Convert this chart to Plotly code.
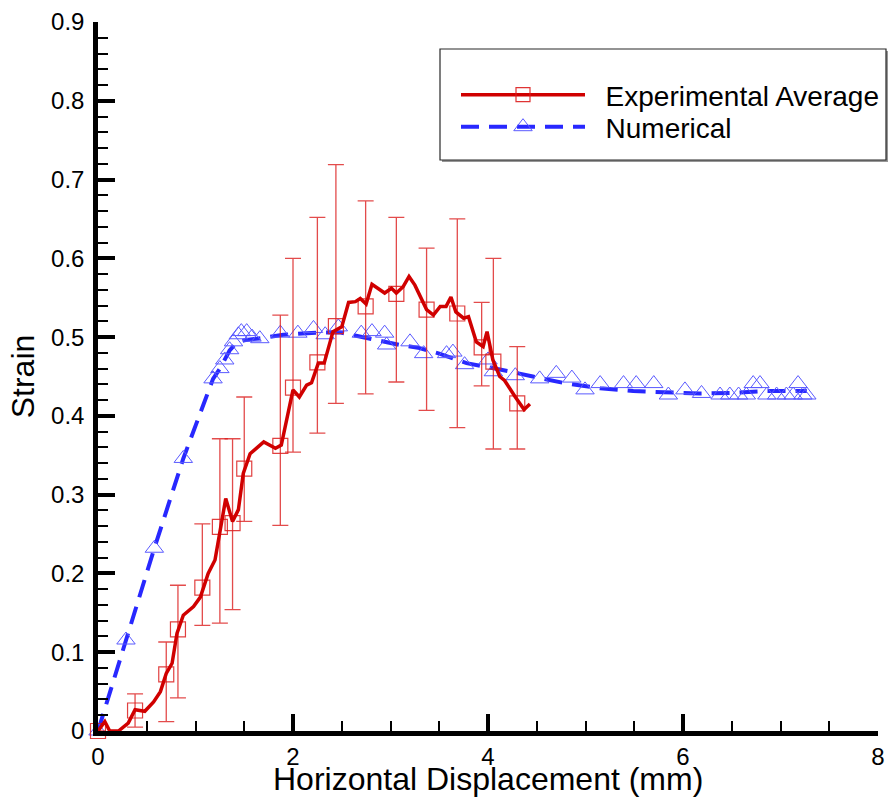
import plotly.graph_objects as go

# ---------------- data ----------------
exp_line_x = [0.00, 0.07, 0.12, 0.21, 0.31, 0.38, 0.48, 0.57, 0.64, 0.70, 0.76, 0.81, 0.875, 0.98, 1.05,
              1.13, 1.20, 1.25, 1.31, 1.38, 1.44, 1.49, 1.56, 1.70, 1.82, 1.88, 2.00, 2.065, 2.14, 2.19,
              2.26, 2.32, 2.41, 2.50, 2.57, 2.64, 2.69, 2.75, 2.81, 2.94, 3.01, 3.06, 3.13, 3.19, 3.25,
              3.37, 3.44, 3.51, 3.57, 3.62, 3.67, 3.75, 3.80, 3.88, 3.95, 3.99, 4.05, 4.12, 4.17, 4.28,
              4.37, 4.43]
exp_line_y = [0.000, 0.012, 0.000, 0.000, 0.010, 0.027, 0.025, 0.037, 0.050, 0.073, 0.086, 0.124, 0.147, 0.158,
              0.170, 0.200, 0.217, 0.255, 0.295, 0.266, 0.281, 0.327, 0.352, 0.367, 0.359, 0.363, 0.433,
              0.424, 0.439, 0.442, 0.467, 0.467, 0.507, 0.513, 0.544, 0.545, 0.549, 0.542, 0.567, 0.556,
              0.562, 0.556, 0.564, 0.577, 0.566, 0.535, 0.528, 0.539, 0.539, 0.551, 0.532, 0.524, 0.526,
              0.494, 0.488, 0.507, 0.471, 0.450, 0.445, 0.424, 0.408, 0.415]

exp_pt_x = [0.00, 0.38, 0.70, 0.82, 1.07, 1.25, 1.38, 1.50, 1.87, 2.00, 2.25, 2.44, 2.745, 3.06, 3.37,
            3.685, 3.935, 4.055, 4.30]
exp_pt_y = [0.000, 0.026, 0.072, 0.129, 0.182, 0.259, 0.264, 0.333, 0.362, 0.436, 0.468, 0.514, 0.539,
            0.555, 0.535, 0.530, 0.487, 0.469, 0.416]
exp_upper = [0.000, 0.047, 0.113, 0.185, 0.263, 0.371, 0.371, 0.424, 0.528, 0.600, 0.652, 0.719, 0.673,
             0.652, 0.613, 0.650, 0.544, 0.600, 0.488]
exp_lower = [0.000, 0.005, 0.012, 0.042, 0.134, 0.137, 0.154, 0.266, 0.261, 0.354, 0.378, 0.416, 0.428,
             0.443, 0.407, 0.385, 0.438, 0.358, 0.358]

num_x = [0.0, 0.287, 0.578, 0.875, 1.18, 1.25, 1.30, 1.35, 1.40, 1.45, 1.50, 1.60, 1.70, 1.90, 2.10,
         2.30, 2.48, 2.70, 2.96, 3.10, 3.30, 3.50, 3.78, 4.00, 4.20, 4.46, 4.81, 5.15, 5.49, 5.80,
         6.17, 6.50, 6.86, 7.05, 7.27]
num_y = [0.0, 0.1155, 0.232, 0.346, 0.447, 0.460, 0.471, 0.483, 0.490, 0.494, 0.496, 0.497, 0.499, 0.503,
         0.505, 0.506, 0.506, 0.500, 0.494, 0.490, 0.486, 0.479, 0.467, 0.462, 0.457, 0.450, 0.441,
         0.435, 0.4315, 0.430, 0.4285, 0.429, 0.4315, 0.4315, 0.4315]

tri_x = [0.0, 0.287, 0.578, 0.875, 1.18, 1.25, 1.30, 1.35, 1.39, 1.44, 1.47, 1.525, 1.58, 1.66, 1.87,
         2.05, 2.21, 2.33, 2.465, 2.70, 2.81, 2.94, 2.96, 3.20, 3.34, 3.575, 3.64, 3.76, 4.00, 4.055,
         4.28, 4.53, 4.70, 4.86, 4.995, 5.15, 5.39, 5.52, 5.70, 5.85, 6.02, 6.19, 6.38, 6.48, 6.57,
         6.65, 6.72, 6.79, 6.86, 6.96, 7.06, 7.13, 7.18, 7.23, 7.27]
tri_y = [0.0, 0.1155, 0.232, 0.346, 0.447, 0.460, 0.471, 0.484, 0.494, 0.503, 0.507, 0.507, 0.500, 0.498,
         0.505, 0.505, 0.511, 0.503, 0.513, 0.505, 0.507, 0.505, 0.490, 0.494, 0.479, 0.479, 0.481,
         0.465, 0.471, 0.456, 0.451, 0.447, 0.454, 0.448, 0.433, 0.441, 0.441, 0.441, 0.441, 0.4265,
         0.433, 0.4285, 0.4265, 0.4265, 0.4265, 0.4265, 0.441, 0.441, 0.4265, 0.4265, 0.4265, 0.4265,
         0.441, 0.4265, 0.4265]

x_ticks = [0, 2, 4, 6, 8]
y_ticks = [0, 0.1, 0.2, 0.3, 0.4, 0.5, 0.6, 0.7, 0.8, 0.9]
y_labels = ["0", "0.1", "0.2", "0.3", "0.4", "0.5", "0.6", "0.7", "0.8", "0.9"]
x_title = "Horizontal Displacement (mm)"
y_title = "Strain"

RED = "rgb(208,0,0)"
BLUE = "rgb(40,40,255)"
TRI = "rgb(90,90,255)"
FONT = "Liberation Sans, Arial, sans-serif"
NB = "\u00a0"

fig = go.Figure()

# numerical line + triangles
fig.add_trace(go.Scatter(x=num_x, y=num_y, mode="lines", showlegend=False,
                         line=dict(color=BLUE, width=4, dash="18px,10px")))
fig.add_trace(go.Scatter(x=tri_x, y=tri_y, mode="markers", showlegend=False, cliponaxis=False,
                         marker=dict(symbol="triangle-up-open", size=16, color=TRI,
                                     line=dict(width=1, color=TRI))))

# experimental squares with error bars + line
fig.add_trace(go.Scatter(x=exp_pt_x, y=exp_pt_y, mode="markers", showlegend=False, cliponaxis=False,
                         marker=dict(symbol="square-open", size=15, color="rgba(220,30,30,0.85)",
                                     line=dict(width=1.2, color="rgba(220,30,30,0.85)")),
                         error_y=dict(type="data", symmetric=False,
                                      array=[u - y for u, y in zip(exp_upper, exp_pt_y)],
                                      arrayminus=[y - l for y, l in zip(exp_pt_y, exp_lower)],
                                      color="rgba(220,30,30,0.8)", thickness=1.3, width=8)))
fig.add_trace(go.Scatter(x=exp_line_x, y=exp_line_y, mode="lines", showlegend=False, cliponaxis=False,
                         line=dict(color=RED, width=3.5)))

# legend entries (two separate legends for exact placement)
fig.add_trace(go.Scatter(x=[None], y=[None], mode="lines+markers", name=NB * 2 + "Experimental Average",
                         legend="legend",
                         line=dict(color=RED, width=3.5),
                         marker=dict(symbol="square-open", size=14, color="rgba(220,30,30,0.9)",
                                     line=dict(width=1.2))))
fig.add_trace(go.Scatter(x=[None], y=[None], mode="lines+markers", name=NB * 2 + "Numerical",
                         legend="legend2",
                         line=dict(color=BLUE, width=4, dash="18px,10px"),
                         marker=dict(symbol="triangle-up-open", size=16, color=TRI,
                                     line=dict(width=1))))


def px2x(p):
    return (p - 98) / 780.0


def px2y(p):
    return (731 - p) / 709.0


shapes = [
    dict(type="rect", xref="paper", yref="paper", x0=px2x(442), x1=px2x(888), y0=px2y(162), y1=px2y(51),
         line=dict(width=0), fillcolor="rgb(150,150,150)", layer="above"),
    dict(type="rect", xref="paper", yref="paper", x0=px2x(440), x1=px2x(886), y0=px2y(160), y1=px2y(49),
         line=dict(width=1.2, color="rgb(40,40,40)"), fillcolor="white", layer="above"),
]

annotations = [
    dict(text=x_title, xref="paper", yref="paper", x=px2x(488), y=px2y(779), xanchor="center",
         yanchor="middle", showarrow=False, font=dict(size=32, family=FONT, color="black")),
]

leg_common = dict(xanchor="left", yanchor="middle", bgcolor="rgba(0,0,0,0)", borderwidth=0,
                  font=dict(size=28, family=FONT, color="black"), itemwidth=124)

fig.update_layout(
    width=888, height=802,
    margin=dict(l=98, r=10, t=22, b=71, autoexpand=False),
    paper_bgcolor="white", plot_bgcolor="white",
    font=dict(family=FONT, color="black"),
    shapes=shapes,
    annotations=annotations,
    showlegend=True,
    legend=dict(x=px2x(456), y=px2y(95), **leg_common),
    legend2=dict(x=px2x(456), y=px2y(127), **leg_common),
    xaxis=dict(range=[0, 8], tickvals=x_ticks, ticktext=[str(v) for v in x_ticks], automargin=False,
               showgrid=False, zeroline=False, showline=True, linecolor="black", linewidth=4.5,
               ticks="inside", ticklen=17, tickwidth=3.5, tickcolor="black",
               tickfont=dict(size=24, family=FONT), ticklabelstandoff=0,
               minor=dict(dtick=0.5, ticks="inside", ticklen=10, tickwidth=1.5, tickcolor="black")),
    yaxis=dict(range=[0, 0.9], tickvals=y_ticks, ticktext=y_labels, automargin=False,
               showgrid=False, zeroline=False, showline=True, linecolor="black", linewidth=4.5,
               ticks="inside", ticklen=17, tickwidth=3.5, tickcolor="black",
               tickfont=dict(size=24, family=FONT), ticklabelstandoff=4,
               minor=dict(dtick=0.02, ticks="inside", ticklen=10, tickwidth=1.5, tickcolor="black"),
               title=dict(text=y_title, font=dict(size=32, family=FONT), standoff=8)),
)

fig.write_html("out.html", config={"displayModeBar": False},
               post_script="document.body.style.margin='0';document.body.style.overflow='hidden';")
